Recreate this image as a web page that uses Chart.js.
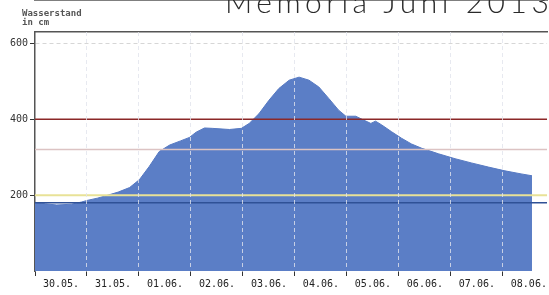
<!DOCTYPE html>
<html><head><meta charset="utf-8">
<script src="https://cdn.jsdelivr.net/npm/chart.js@4/dist/chart.umd.min.js"></script>
<style>
html,body{margin:0;padding:0;background:#fff;overflow:hidden}
#wrap{position:relative;width:549px;height:295px;overflow:hidden}
canvas{position:absolute;left:0;top:0}
.title{position:absolute;left:225px;top:-14px;font:300 30px Lato,"Open Sans",sans-serif;letter-spacing:4.5px;color:#2a2a2a;white-space:nowrap;line-height:30px}
.unit{position:absolute;left:22px;font:bold 9px "DejaVu Sans Mono",monospace;color:#555;line-height:9px}
</style></head><body>
<div id="wrap"><canvas id="c" width="549" height="295"></canvas>
<div class="title">Memoria Juni 2013</div>
<div class="unit" style="top:9px">Wasserstand</div>
<div class="unit" style="top:18px">in cm</div>
</div>
<script>
// categories (days), tick labels
const dayLabels = ['30.05.','31.05.','01.06.','02.06.','03.06.','04.06.','05.06.','06.06.','07.06.','08.06.'];
const yTicks = [200, 400, 600];
// water level series: time in days since 30.05. 00:00, level in cm
const timeDays = [0, 0.2, 0.42, 0.7, 0.9, 1.0, 1.2, 1.38, 1.6, 1.82, 2.01, 2.2, 2.39, 2.59, 2.8, 2.97, 3.1, 3.26, 3.41, 3.74, 3.97, 4.12, 4.31, 4.5, 4.69, 4.89, 5.08, 5.27, 5.46, 5.65, 5.84, 5.98, 6.17, 6.32, 6.46, 6.55, 6.67, 6.86, 7.05, 7.24, 7.43, 7.76, 8.08, 8.39, 8.72, 9.04, 9.35, 9.56];
const levels   = [181, 177, 174, 176, 182, 186, 192, 199, 208, 220, 241, 276, 315, 332, 343, 352, 366, 377, 376, 373, 376, 389, 415, 450, 481, 503, 511, 503, 485, 455, 424, 408, 408, 398, 389, 395, 385, 367, 350, 335, 324, 309, 296, 285, 274, 264, 256, 251];
// threshold lines (cm)
const thresholds = [400, 320, 200, 180];
const thresholdColors = ['#8b2828', '#dcc3c3', '#e8e297', '#2f5196'];
const thresholdWidths = [1.5, 1.5, 2, 1.5];

const xMax = 9.85;

const lineSets = thresholds.map((t, i) => ({
  data: [{x: 0, y: t}, {x: xMax, y: t}],
  borderColor: thresholdColors[i], borderWidth: thresholdWidths[i],
  pointRadius: 0, fill: false, order: 1
}));

new Chart(document.getElementById('c'), {
  type: 'line',
  data: {datasets: [
    ...lineSets,
    {data: timeDays.map((t, i) => ({x: t, y: levels[i]})),
     fill: 'origin', backgroundColor: '#5b7ec6', borderColor: '#5679c2',
     borderWidth: 1, pointRadius: 0, tension: 0, order: 10}
  ]},
  options: {
    responsive: false, animation: false,
    layout: {padding: 0},
    plugins: {legend: {display: false}, tooltip: {enabled: false}},
    scales: {
      x: {
        type: 'linear', position: 'bottom', min: 0, max: xMax,
        afterBuildTicks: s => { s.ticks = dayLabels.map((_, i) => ({value: i + 0.5})); },
        afterFit: s => { s.height = 24; },
        ticks: {autoSkip: false, maxRotation: 0, padding: 2, color: '#222',
                font: {family: 'DejaVu Sans Mono', size: 10},
                callback: (v, i) => dayLabels[i]},
        grid: {offset: true, lineWidth: 1, z: 1,
               color: c => c.index === 0 ? 'rgba(0,0,0,0)' : 'rgba(225,228,236,0.8)',
               tickColor: '#333', tickLength: 5, tickBorderDash: []},
        border: {color: '#555', width: 1.5, dash: [4, 3]}
      },
      xTop: {
        type: 'linear', position: 'top', min: 0, max: xMax,
        ticks: {display: false}, grid: {display: false},
        afterFit: s => { s.height = 32; },
        border: {color: '#555', width: 1.5}
      },
      y: {
        min: 0, max: 630,
        afterBuildTicks: s => { s.ticks = yTicks.map(v => ({value: v})); },
        afterFit: s => { s.width = 35; },
        ticks: {padding: 2, color: '#333', font: {family: 'DejaVu Sans Mono', size: 10}},
        grid: {color: '#d6d6d6', tickColor: '#333', tickLength: 5, tickBorderDash: []},
        border: {color: '#555', width: 1.5, dash: [4, 3]}
      }
    }
  }
});
</script>
</body></html>
